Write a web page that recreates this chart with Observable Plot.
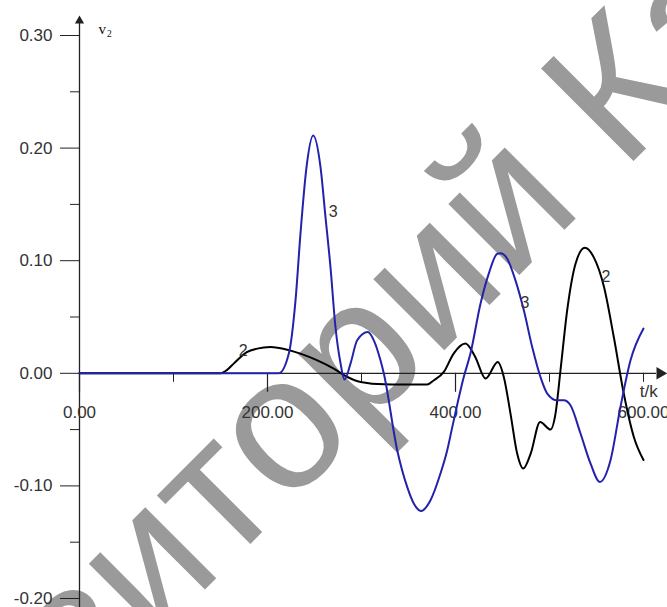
<!DOCTYPE html>
<html><head><meta charset="utf-8">
<script src="https://cdn.jsdelivr.net/npm/d3@7"></script>
<script src="https://cdn.jsdelivr.net/npm/@observablehq/plot@0.6"></script>
<style>html,body{margin:0;padding:0;overflow:hidden;background:#fff}</style>
</head><body><div id="chart"></div>
<script>
// Curve 2 (black)
const curve2T = [0, 150, 157, 164, 178, 189, 203, 221, 235, 253, 270.5, 285, 299, 324, 370, 377, 387.6, 398, 410.6, 421, 432, 445, 451.4, 458.5, 465.6, 472, 480, 490, 501, 506.4, 511.7, 518.8, 527.7, 537.6, 547, 558, 568.4, 579, 589.7, 600];
const curve2V = [0, 0, 0.003, 0.0086, 0.0189, 0.0219, 0.0233, 0.0210, 0.0175, 0.0115, 0.0042, -0.0033, -0.0077, -0.0098, -0.0100, -0.0062, 0.0012, 0.0175, 0.0264, 0.0145, -0.0047, 0.0100, -0.0033, -0.0358, -0.0713, -0.0846, -0.0713, -0.0432, -0.0500, -0.0358, 0.0027, 0.0559, 0.0973, 0.1115, 0.1032, 0.0766, 0.0322, -0.0180, -0.0565, -0.0770];
// Curve 3 (blue)
const curve3T = [0, 212, 222.7, 229.8, 235.1, 241.5, 248.6, 256.4, 261.7, 267, 272.3, 277.7, 281.9, 288.3, 295.4, 306.7, 313.1, 320.2, 323.7, 338, 348.6, 355.6, 363.5, 373.4, 384, 391.2, 396, 408.8, 415.9, 426.6, 435.4, 444.4, 448, 455, 463.8, 472.7, 481.6, 490.4, 497.6, 508.2, 515.2, 522.3, 533, 543.6, 553.5, 564.9, 575.5, 586.2, 600];
const curve3V = [0, 0, 0.0175, 0.0648, 0.1242, 0.1831, 0.2112, 0.1831, 0.1387, 0.0943, 0.0411, 0.0089, -0.0056, 0.0086, 0.0293, 0.0366, 0.0293, 0.0115, 0, -0.0683, -0.1009, -0.1156, -0.1222, -0.1127, -0.0890, -0.0683, -0.050, -0.0033, 0.0175, 0.0618, 0.0885, 0.1062, 0.1067, 0.1018, 0.0825, 0.0559, 0.0233, -0.0033, -0.0180, -0.0240, -0.0240, -0.0284, -0.0535, -0.0801, -0.0965, -0.0772, -0.0299, 0.0115, 0.0397];
// Axis ticks
const yMajorTicks = [-0.2, -0.1, 0, 0.1, 0.2, 0.3];
const yMinorTicks = [-0.15, -0.05, 0.05, 0.15, 0.25];
const xLabelTicks = [0, 200, 400, 600];
const xLongTicks = [0, 200, 400];
const xShortTicks = [100, 300, 500, 600];
// Curve labels (series name, t, v)
const labelNames = ["2", "3", "3", "2"];
const labelT = [169.5, 265.2, 469.1, 555.3];
const labelV = [0.0158, 0.1384, 0.0582, 0.0809];

const W = 667, H = 607, mL = 79, mR = 24, mT = 35, mB = 9;
const xDom = [0, 600], yDom = [-0.2, 0.3];
const kx = (xDom[1] - xDom[0]) / (W - mL - mR); // data per px
const ky = (yDom[1] - yDom[0]) / (H - mT - mB);

const s2 = curve2T.map((t, i) => ({t, v: curve2V[i]}));
const s3 = curve3T.map((t, i) => ({t, v: curve3V[i]}));
const labels = labelNames.map((n, i) => ({n, t: labelT[i], v: labelV[i]}));

const axisColor = "#222", textColor = "#333";
const font = "Liberation Sans, Arial, sans-serif";

const plot = Plot.plot({
  width: W, height: H,
  marginLeft: mL, marginRight: mR, marginTop: mT, marginBottom: mB,
  x: {domain: xDom, axis: null},
  y: {domain: yDom, axis: null},
  style: {fontFamily: font, background: "#fff", overflow: "hidden"},
  marks: [
    // watermark
    Plot.text(["КарГУ"], {frameAnchor: "top-left", dx: 542.9, dy: 136.5, text: d => d, rotate: -45, fontSize: 190, fill: "#9a9a9a", textAnchor: "start", lineAnchor: "bottom", fontFamily: font}),
    Plot.text(["Репозиторий"], {frameAnchor: "top-left", dx: 505.6, dy: 173.8, text: d => d, rotate: -45, fontSize: 190, fill: "#9a9a9a", textAnchor: "end", lineAnchor: "bottom", fontFamily: font}),
    // y axis
    Plot.ruleX([0], {y1: yDom[0] - 12 * ky, y2: yDom[1] + 15 * ky, stroke: axisColor, strokeWidth: 1.3}),
    Plot.dot([0], {x: 0, y: yDom[1], dy: -14.7, symbol: "triangle", r: 3.43, fill: axisColor, stroke: "none"}),
    Plot.axisY({anchor: "left", ticks: yMajorTicks, tickSize: 19, tickPadding: 8, tickFormat: d => d.toFixed(2), fontSize: 17, fill: textColor, stroke: axisColor, label: null, fontFamily: font}),
    Plot.axisY({anchor: "left", ticks: yMinorTicks, tickSize: 9, tickFormat: () => "", stroke: axisColor, label: null}),
    // x axis
    Plot.ruleY([0], {x1: 0, x2: xDom[1] + 13 * kx, stroke: axisColor, strokeWidth: 1.2}),
    Plot.dot([0], {x: xDom[1], y: 0, dx: 16.6, symbol: "triangle", r: 4.6, rotate: 90, fill: axisColor, stroke: "none"}),
    Plot.ruleX(xLongTicks, {x: d => d, y1: 0, y2: -19 * ky, stroke: axisColor, strokeWidth: 1.2}),
    Plot.ruleX(xShortTicks, {x: d => d, y1: 0, y2: -9 * ky, stroke: axisColor, strokeWidth: 1}),
    Plot.text(xLabelTicks, {x: d => d, y: 0, dy: 39, text: d => d.toFixed(2), fontSize: 17, fill: textColor}),
    Plot.text(["t/k"], {x: xDom[1], y: 0, dx: -3.7, dy: 24, text: d => d, textAnchor: "start", lineAnchor: "bottom", fontSize: 17, fill: textColor}),
    Plot.text(["v"], {frameAnchor: "top-left", dx: 19, dy: -1.7, text: d => d, textAnchor: "start", lineAnchor: "bottom", fontSize: 15, fontFamily: "Liberation Serif, serif", fill: "#111"}),
    Plot.text(["2"], {frameAnchor: "top-left", dx: 27.5, dy: 1.8, text: d => d, textAnchor: "start", lineAnchor: "bottom", fontSize: 9.5, fontFamily: "Liberation Serif, serif", fill: "#111"}),
    // curves
    Plot.line(s2, {x: "t", y: "v", stroke: "#000", strokeWidth: 2, curve: "monotone-x"}),
    Plot.line(s3, {x: "t", y: "v", stroke: "#2222aa", strokeWidth: 2, curve: "monotone-x"}),
    Plot.text(labels, {x: "t", y: "v", text: "n", textAnchor: "start", lineAnchor: "bottom", fontSize: 16, fill: textColor})
  ]
});
document.getElementById("chart").appendChild(plot);
</script>
</body></html>
